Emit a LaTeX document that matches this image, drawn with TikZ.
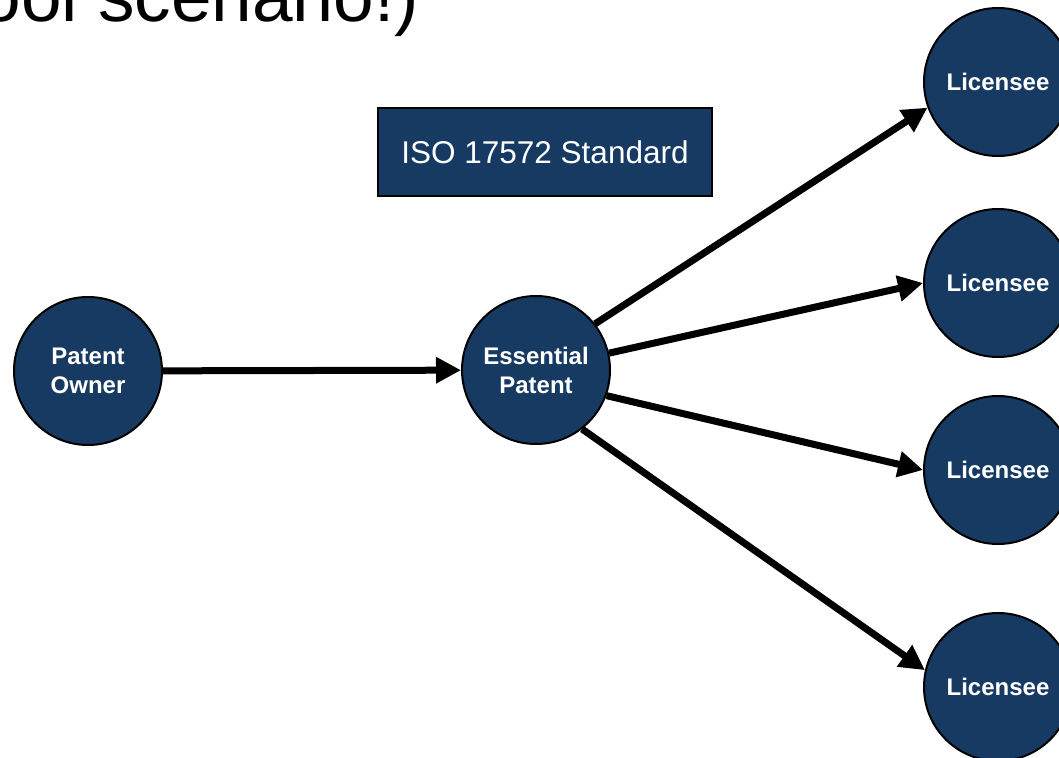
\documentclass[tikz,border=0pt]{standalone}
\usepackage{fontspec}
\setmainfont{Liberation Sans}
\usetikzlibrary{arrows.meta}
\definecolor{navy}{RGB}{23,58,99}
\tikzset{
  party/.style={circle, draw=black, line width=2pt, fill=navy, minimum size=148pt,
    inner sep=0pt, text=white, font=\fontsize{24}{29}\selectfont\bfseries, align=center},
  stdbox/.style={rectangle, draw=black, line width=2pt, fill=navy, text=white,
    minimum width=334pt, minimum height=88pt, inner sep=0pt, font=\fontsize{31.5}{36}\selectfont},
  flow/.style={line width=7pt, -{Triangle[length=25pt,width=25pt]}},
}
\begin{document}
\begin{tikzpicture}[x=1pt,y=-1pt]
\useasboundingbox (0,0) rectangle (1059,757);
\clip (0,0) rectangle (1059,757);

% heading (runs off the top of the page)
\node[anchor=base east, inner sep=0pt, font=\fontsize{73}{80}\selectfont] (title) at (419,22) {ool scenario!)};

% standard box
\node[stdbox] (std) at (545,152) {ISO 17572 Standard};

% parties
\node[party] (po) at (88,371) {Patent\\Owner};
\node[party] (ep) at (536,370) {Essential\\Patent};
\node[party] (l1) at (998,82) {Licensee};
\node[party] (l2) at (998,283) {Licensee};
\node[party] (l3) at (998,470) {Licensee};
\node[party] (l4) at (998,687) {Licensee};

% licensing flows
\draw[flow] (po) -- (ep);
\draw[flow] (ep.38) -- (l1.200);
\draw[flow] (ep.13) -- (l2.west);
\draw[flow] (ep.-20) -- (l3.west);
\draw[flow] (ep.-52) -- (l4.167);
\end{tikzpicture}
\end{document}
